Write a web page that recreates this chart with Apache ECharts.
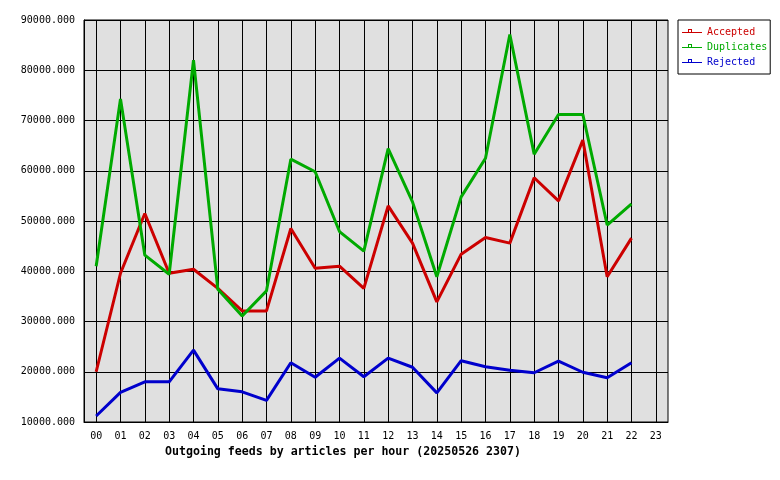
<!DOCTYPE html>
<html>
    <head>
        <meta charset="utf-8">
        <title>Outgoing feeds</title>
        <script src="https://cdn.jsdelivr.net/npm/echarts@6/dist/echarts.min.js"></script>
        <style>
            html, body { margin: 0; padding: 0; background: #fff; }
            #chart1 { width: 780px; height: 480px; }
        </style>
    </head>
    <body>
        <div id="chart1"></div>
        <script>
            // hours on the x axis
            var hours = ['00','01','02','03','04','05','06','07','08','09','10','11',
                         '12','13','14','15','16','17','18','19','20','21','22','23'];
            // articles per hour (hour 23 has no data yet)
            var accepted = [20000, 39600, 51500, 39600, 40400, 36600, 32100, 32100, 48500, 40600, 41000, 36600,
                            53000, 45600, 33900, 43400, 46700, 45600, 58600, 54000, 66100, 38900, 46600, null];
            var duplicates = [41000, 74300, 43200, 39400, 82000, 36400, 31100, 36100, 62300, 59800, 47900, 44000,
                              64400, 53800, 38900, 54800, 62500, 87100, 63300, 71200, 71200, 49200, 53400, null];
            var rejected = [11200, 15900, 18000, 18000, 24300, 16600, 16000, 14300, 21800, 18900, 22700, 19000,
                            22700, 20900, 15800, 22200, 21000, 20300, 19800, 22100, 19900, 18800, 21800, null];
            var seriesNames = ['Accepted', 'Duplicates', 'Rejected'];
            var seriesColors = ['#cc0000', '#00aa00', '#0000cc'];

            var mono = 'DejaVu Sans Mono';
            // legend icon: thin line with a small hollow square sitting on it (20x10 box)
            var legendIcon = 'path://M0,0M0,5h20v1h-20zM6,2h4v4h-4zM7,3v2h2v-2zM20,10';

            var myChart = echarts.init(document.getElementById('chart1'));

            function line(name, data, color) {
                return {
                    name: name,
                    type: 'line',
                    data: data,
                    symbol: 'none',
                    showSymbol: false,
                    animation: false,
                    lineStyle: { color: color, width: 3 },
                    itemStyle: { color: color }
                };
            }

            myChart.setOption({
                animation: false,
                title: {
                    text: 'Outgoing feeds by articles per hour (20250526 2307)',
                    left: 165,
                    top: 446,
                    padding: 0,
                    textStyle: { fontFamily: mono, fontWeight: 'bold', fontSize: 11.6, color: '#000' }
                },
                legend: {
                    orient: 'vertical',
                    left: 678,
                    top: 20,
                    padding: [7, 3, 7, 4],
                    itemWidth: 20,
                    itemHeight: 10,
                    itemGap: 5,
                    borderColor: '#000',
                    borderWidth: 1,
                    borderRadius: 0,
                    itemStyle: { borderWidth: 0 },
                    textStyle: { fontFamily: mono, fontSize: 10 },
                    data: seriesNames.map(function (n, i) {
                        return { name: n, icon: legendIcon, textStyle: { color: seriesColors[i] } };
                    })
                },
                grid: {
                    left: 84,
                    top: 20,
                    width: 584,
                    height: 402,
                    outerBoundsMode: 'none',
                    show: true,
                    backgroundColor: '#e0e0e0',
                    borderColor: '#000',
                    borderWidth: 1
                },
                xAxis: {
                    type: 'category',
                    data: hours,
                    boundaryGap: true,
                    axisLine: { lineStyle: { color: '#000', width: 1 } },
                    axisTick: { show: false, alignWithLabel: true },
                    axisLabel: { fontFamily: mono, fontSize: 10, color: '#000', margin: 9, interval: 0 },
                    splitLine: { show: true, alignWithLabel: true, interval: 0, lineStyle: { color: '#000', width: 1 } }
                },
                yAxis: {
                    type: 'value',
                    min: 10000,
                    max: 90000,
                    interval: 10000,
                    axisLine: { show: true, lineStyle: { color: '#000', width: 1 } },
                    axisTick: { show: false },
                    axisLabel: {
                        fontFamily: mono, fontSize: 10, color: '#000', margin: 9,
                        formatter: function (v) { return v.toFixed(3); }
                    },
                    splitLine: { show: true, lineStyle: { color: '#000', width: 1 } }
                },
                series: [
                    line(seriesNames[0], accepted, seriesColors[0]),
                    line(seriesNames[1], duplicates, seriesColors[1]),
                    line(seriesNames[2], rejected, seriesColors[2])
                ]
            });
        </script>
    </body>
</html>
